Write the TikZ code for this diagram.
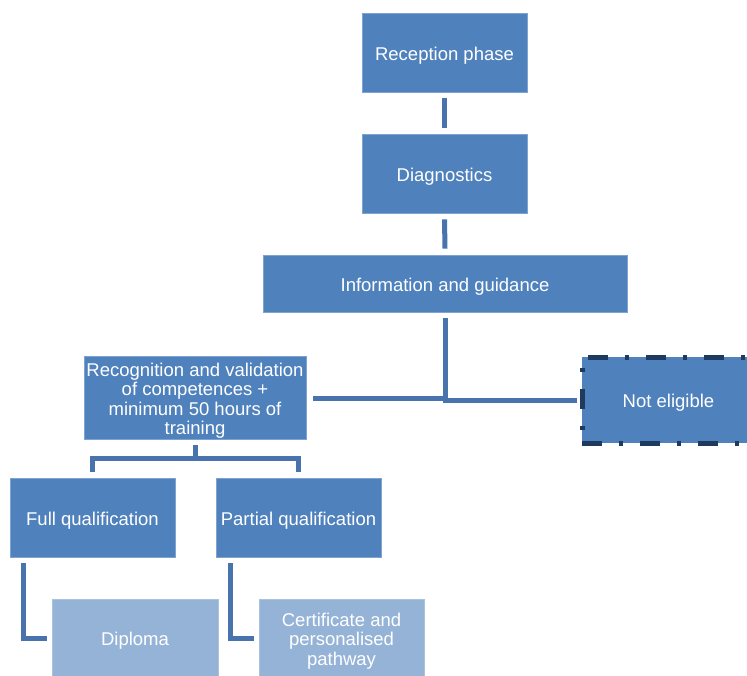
\documentclass[tikz,border=0pt]{standalone}
\usepackage{fontspec}
\setmainfont{Liberation Sans}
\usetikzlibrary{calc}
\definecolor{boxblue}{HTML}{4F81BD}
\definecolor{boxedge}{HTML}{7FA3D0}
\definecolor{lightblue}{HTML}{95B3D7}
\definecolor{connblue}{HTML}{4873AD}
\definecolor{darknavy}{HTML}{1F3A5F}
\newcommand{\mystrut}{\rule{0pt}{19.5pt}}
\begin{document}
\begin{tikzpicture}[x=1pt,y=-1pt,
  box/.style={fill=boxblue,draw=boxedge,line width=0.6pt,text=white,inner sep=0pt,align=center,
    font=\fontsize{18.5}{19.4}\selectfont},
  lightbox/.style={box,fill=lightblue,draw=lightblue!80!white},
  conn/.style={draw=connblue,line width=5pt},
]
\useasboundingbox (0,0) rectangle (747,675);
\clip (0,0) rectangle (747,675);
\node[box,minimum width=165pt,minimum height=79pt] (rec) at (444.5,52.5) {\mystrut Reception phase};
\node[box,minimum width=165pt,minimum height=79pt] (diag) at (444.5,173.5) {\mystrut Diagnostics};
\node[box,minimum width=364pt,minimum height=57pt] (info) at (445,283.5) {\mystrut Information and guidance};
\node[box,minimum width=222pt,minimum height=83pt] (recog) at (195,397.5) {\mystrut Recognition and validation\\of competences +\\minimum 50 hours of\\training};
\node[box,draw=darknavy,line width=5pt,dash pattern=on 20pt off 17pt on 4pt off 17pt,minimum width=173pt,minimum height=86pt] (notel) at (668.5,400) {\mystrut Not eligible};
\node[box,minimum width=165pt,minimum height=79pt] (full) at (92.5,517.5) {\mystrut Full qualification};
\node[box,minimum width=165pt,minimum height=79pt] (part) at (298.5,517.5) {\mystrut Partial qualification};
\node[lightbox,minimum width=166pt,minimum height=78pt] (dipl) at (135,638) {\mystrut Diploma};
\node[lightbox,minimum width=165pt,minimum height=78pt] (cert) at (341.5,638) {\mystrut Certificate and\\personalised\\pathway};
% connectors
\draw[conn] ($(rec.south)+(0,6)$) -- ($(diag.north)+(0,-6)$);
\draw[conn] ($(diag.south)+(0,6)$) -- ($(info.north)+(0,-6)$);
\draw[conn] ($(info.south)+(0,6)$) |- ($(notel.west)+(-2.5,0)$);
\draw[conn] ($(info.south)+(0,80)$) |- ($(recog.east)+(7,1)$);
\draw[conn] ($(recog.south)+(0,6)$) -- ($(recog.south)+(0,19)$);
\draw[conn] ($(full.north)+(0,-6)$) |- ($(recog.south)+(0,19)$) -| ($(part.north)+(0,-6)$);
\draw[conn] ($(full.south west)+(14,6)$) |- ($(dipl.west)+(-5,0)$);
\draw[conn] ($(part.south west)+(15,6)$) |- ($(cert.west)+(-5,0)$);
\end{tikzpicture}
\end{document}
